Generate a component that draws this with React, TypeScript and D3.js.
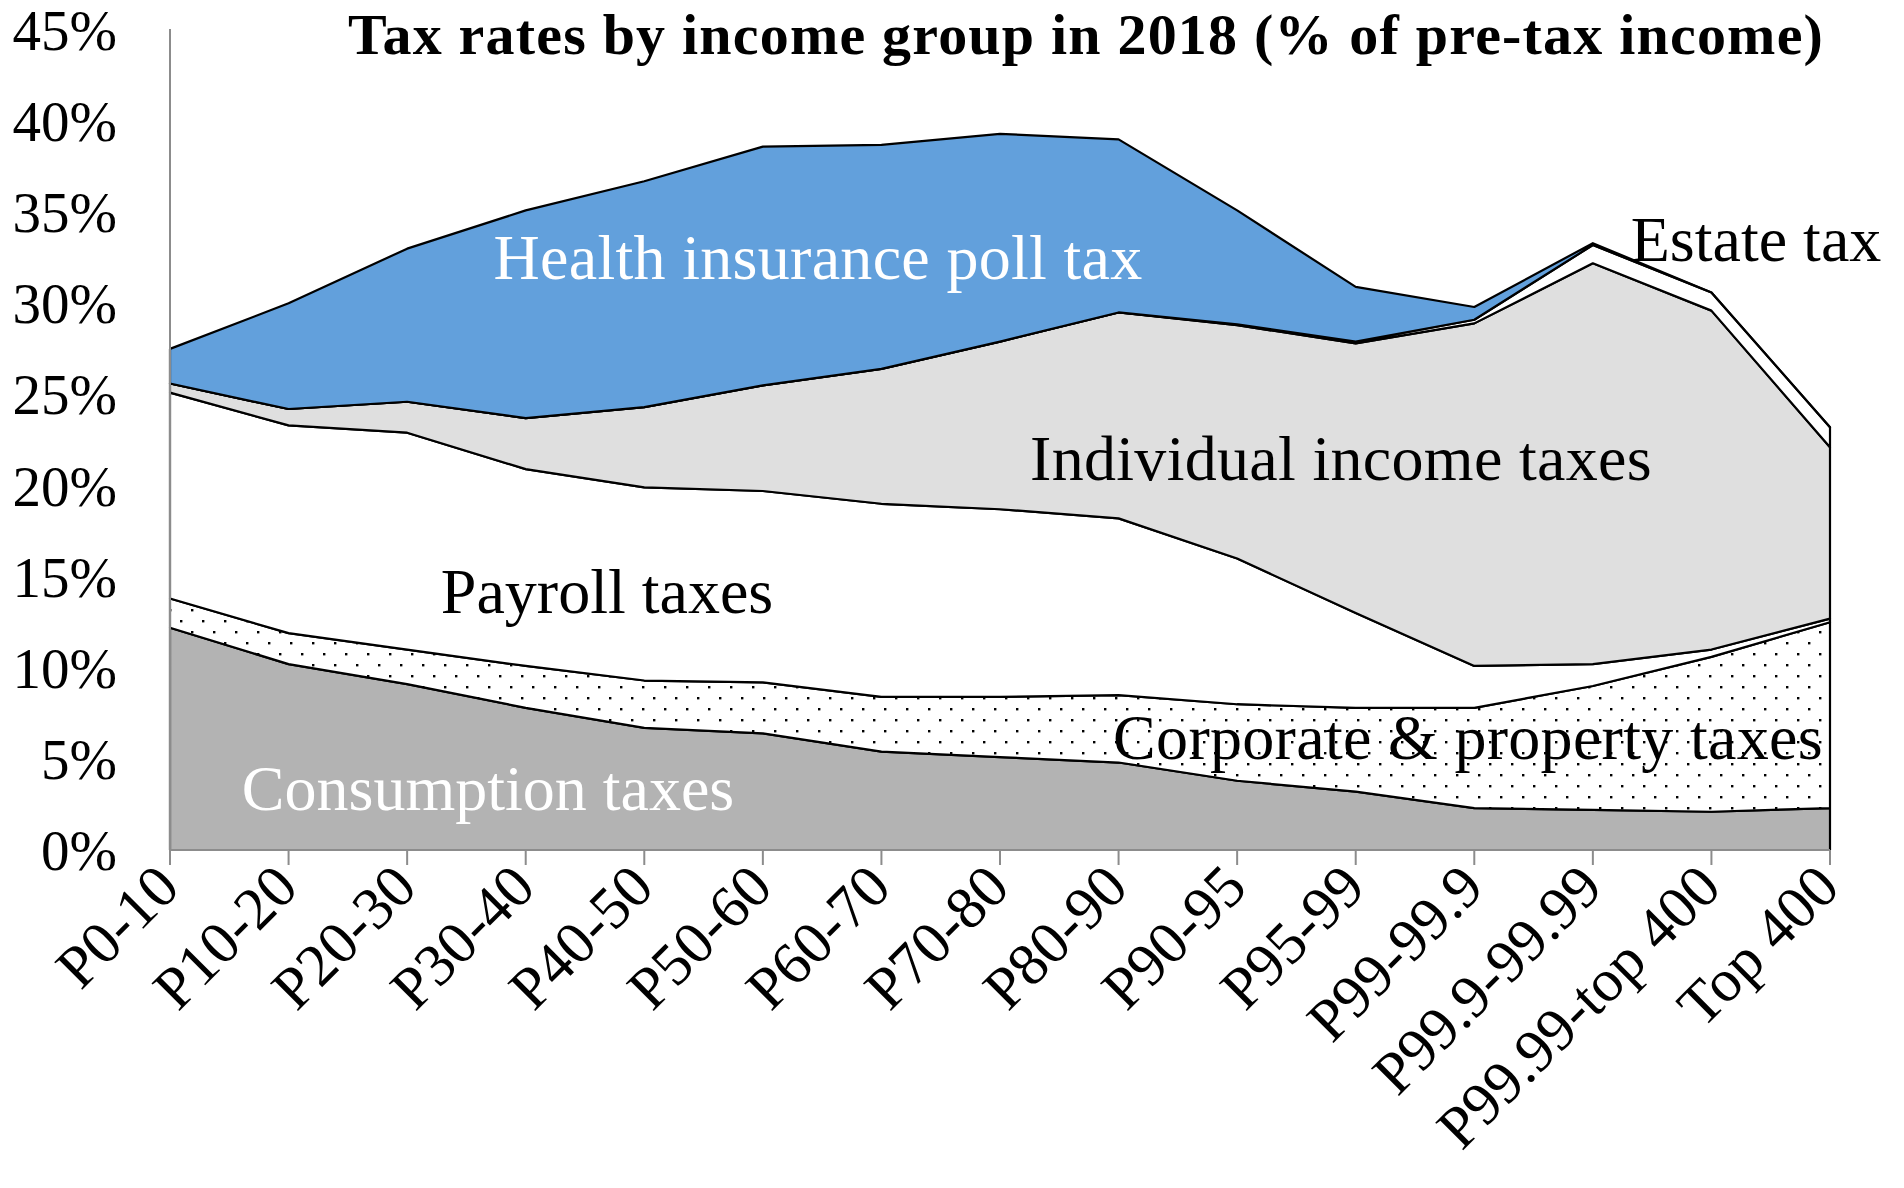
import React from 'react';
import * as d3 from 'd3';

const categories = ['P0-10','P10-20','P20-30','P30-40','P40-50','P50-60','P60-70','P70-80','P80-90','P90-95','P95-99','P99-99.9','P99.9-99.99','P99.99-top 400','Top 400'];
const consumption = [12.2, 10.2, 9.1, 7.8, 6.7, 6.4, 5.4, 5.1, 4.8, 3.8, 3.2, 2.3, 2.2, 2.1, 2.3];
const corporate = [1.6, 1.7, 1.9, 2.3, 2.6, 2.8, 3.0, 3.3, 3.7, 4.2, 4.6, 5.5, 6.8, 8.5, 10.2];
const payroll = [11.3, 11.4, 11.9, 10.8, 10.6, 10.5, 10.6, 10.3, 9.7, 8.0, 5.2, 2.3, 1.2, 0.4, 0.2];
const individual = [0.5, 0.9, 1.7, 2.8, 4.4, 5.8, 7.4, 9.2, 11.3, 12.8, 14.8, 18.8, 22.0, 18.6, 9.4];
const estate = [0, 0, 0, 0, 0, 0, 0, 0, 0, 0.05, 0.1, 0.2, 1.0, 1.0, 1.1];
const health = [1.9, 5.8, 8.4, 11.4, 12.4, 13.1, 12.3, 11.4, 9.5, 6.25, 3.0, 0.7, 0.1, 0, 0];
const yTicks = [0, 5, 10, 15, 20, 25, 30, 35, 40, 45];

const seriesKeys = ['consumption', 'corporate', 'payroll', 'individual', 'estate', 'health'];
const seriesFill: Record<string, string> = {
  consumption: '#B3B3B3',
  corporate: 'url(#dots)',
  payroll: '#FFFFFF',
  individual: '#DFDFDF',
  estate: '#FFFFFF',
  health: '#62A0DC',
};

const FONT = '"Liberation Serif", "Times New Roman", serif';

export default function App() {
  const W = 1904, H = 1188;
  const left = 170, right = 1830, top = 30, bottom = 850;
  const x = d3.scalePoint<string>().domain(categories).range([left, right]);
  const y = d3.scaleLinear().domain([0, 45]).range([bottom, top]);

  const rows = categories.map((c, i) => ({
    cat: c,
    consumption: consumption[i],
    corporate: corporate[i],
    payroll: payroll[i],
    individual: individual[i],
    estate: estate[i],
    health: health[i],
  }));
  const stacked = d3.stack<any>().keys(seriesKeys)(rows);
  const area = d3.area<any>()
    .x((d: any) => x(d.data.cat) as number)
    .y0((d: any) => y(d[0]))
    .y1((d: any) => y(d[1]));

  return (
    <svg width={W} height={H} style={{ position: 'absolute', left: 0, top: 0, background: '#fff' }} fontFamily={FONT}>
      <defs>
        <pattern id="dots" width="22" height="22" patternUnits="userSpaceOnUse">
          <rect width="22" height="22" fill="#fff" />
          <rect x="4" y="4" width="2.4" height="2.4" fill="#000" />
          <rect x="15" y="15" width="2.4" height="2.4" fill="#000" />
        </pattern>
      </defs>
      <rect width={W} height={H} fill="#fff" />
      {stacked.map((s: any) => (
        <path key={s.key} d={area(s) as string} fill={seriesFill[s.key]} stroke="#000" strokeWidth={2.2} strokeLinejoin="round" />
      ))}
      {/* axes */}
      <line x1={left} x2={left} y1={top - 1} y2={bottom} stroke="#8C8C8C" strokeWidth={2} />
      <line x1={left} x2={right} y1={bottom} y2={bottom} stroke="#8C8C8C" strokeWidth={2} />
      {categories.map((c) => (
        <line key={'t' + c} x1={x(c)} x2={x(c)} y1={bottom} y2={bottom + 15} stroke="#8C8C8C" strokeWidth={2} />
      ))}
      {yTicks.map((t) => (
        <text key={'y' + t} x={117} y={y(t) + 20} textAnchor="end" fontSize={57} fill="#000">{t}%</text>
      ))}
      {categories.map((c) => (
        <text key={'x' + c} transform={`translate(${(x(c) as number) + 12},${bottom + 40}) rotate(-45)`} textAnchor="end" fontSize={60} fill="#000">{c}</text>
      ))}
      <text x={1086} y={54} textAnchor="middle" fontSize={58} fontWeight="bold" letterSpacing={1.2} fill="#000">Tax rates by income group in 2018 (% of pre-tax income)</text>
      <text x={818} y={279} textAnchor="middle" fontSize={64} letterSpacing={0.3} fill="#fff">Health insurance poll tax</text>
      <text x={1341} y={480} textAnchor="middle" fontSize={64} letterSpacing={0.3} fill="#000">Individual income taxes</text>
      <text x={607} y={613} textAnchor="middle" fontSize={64} fill="#000">Payroll taxes</text>
      <text x={1468} y={759} textAnchor="middle" fontSize={64} letterSpacing={0.3} fill="#000">Corporate &amp; property taxes</text>
      <text x={488} y={810} textAnchor="middle" fontSize={64} fill="#fff">Consumption taxes</text>
      <text x={1756} y={261} textAnchor="middle" fontSize={64} fill="#000">Estate tax</text>
    </svg>
  );
}
